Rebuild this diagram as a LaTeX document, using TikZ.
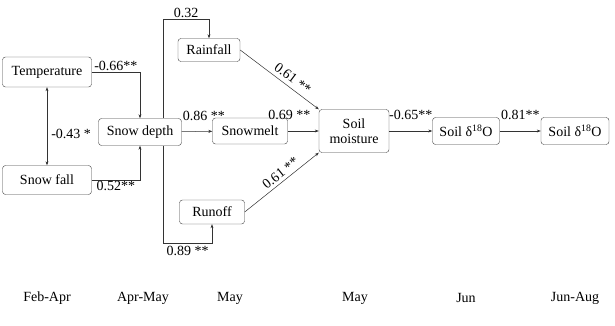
\documentclass[tikz,border=0pt]{standalone}
\usepackage{fontspec}
\setmainfont{Liberation Serif}
\usepackage{tikz}
\usetikzlibrary{arrows.meta,positioning,calc}

\begin{document}
\begin{tikzpicture}[x=1pt,y=-1pt,
          box/.style={draw=black!75,rounded corners=3pt,inner sep=1pt,
                      align=center,font=\fontsize{14}{14}\selectfont},
          arr/.style={draw=black!80,line width=0.5pt,-{Stealth[length=4pt,width=3pt]}},
          lab/.style={font=\fontsize{14}{14}\selectfont,inner sep=1pt}]
        \useasboundingbox (0,0) rectangle (615,326);
        \node[box,minimum width=89pt,minimum height=30pt] (temp) at (47,72) {Temperature};
        \node[box,minimum width=89pt,minimum height=29pt] (sfall) at (47,180) {Snow fall};
        \node[box,minimum width=83pt,minimum height=27pt] (sdepth) at (140,132) {Snow depth};
        \node[box,minimum width=62pt,minimum height=23pt] (rain) at (209,50) {Rainfall};
        \node[box,minimum width=75pt,minimum height=26pt] (smelt) at (250,131) {Snowmelt};
        \node[box,minimum width=65pt,minimum height=24pt] (runoff) at (212,212) {Runoff};
        \node[box,minimum width=70pt,minimum height=43pt] (smoist) at (354,131) {Soil\\[1pt]moisture};
        \node[box,minimum width=67pt,minimum height=27pt] (iso1) at (466,131) {Soil δ\textsuperscript{18}O};
        \node[box,minimum width=68pt,minimum height=27pt] (iso2) at (575,131) {Soil δ\textsuperscript{18}O};
        \coordinate (top) at (163,19);
        \coordinate (bot) at (163,243);

        \draw[arr] (temp.east) -| node[lab,above,pos=0.25] {-0.66**} (sdepth.north);
        \draw[arr] (sfall.east) -| node[lab,below,pos=0.25] {0.52**} (sdepth.south);
        \draw[arr,{Stealth[length=4pt,width=3pt]}-{Stealth[length=4pt,width=3pt]}]
              (temp) -- node[lab,right=3pt,pos=0.6] {-0.43 *} (sfall);
        \draw[arr] (sdepth) -- node[lab,pos=0,anchor=south west,yshift=10pt] {0.86 **} (smelt);
        \draw[arr] (sdepth.north -| top) -- (top) -| node[lab,above,pos=0.25] {0.32} (rain.north);
        \draw[arr] (sdepth.south -| bot) -- (bot) -| node[lab,below=2pt,pos=0.25] {0.89 **} (runoff.south);
        \draw[arr] (rain.east) -- node[lab,sloped,above=3pt,pos=0.6] {0.61 **} (smoist.north west);
        \draw[arr] (smelt) -- node[lab,above,pos=0.05,yshift=10pt] {0.69 **} (smoist);
        \draw[arr] (runoff.east) -- node[lab,sloped,above=2pt,pos=0.55] {0.61 **} (smoist.south west);
        \draw[arr] (smoist) -- node[lab,above,yshift=10pt] {-0.65**} (iso1);
        \draw[arr] (iso1) -- node[lab,above,yshift=10pt] {0.81**} (iso2);

        \foreach \x/\t [count=\i] in {47/Feb-Apr,143/Apr-May,230/May,355/May,466/Jun,575/Jun-Aug}
          \node[lab] (per\i) at (\x,298) {\t};
      \end{tikzpicture}
\end{document}
